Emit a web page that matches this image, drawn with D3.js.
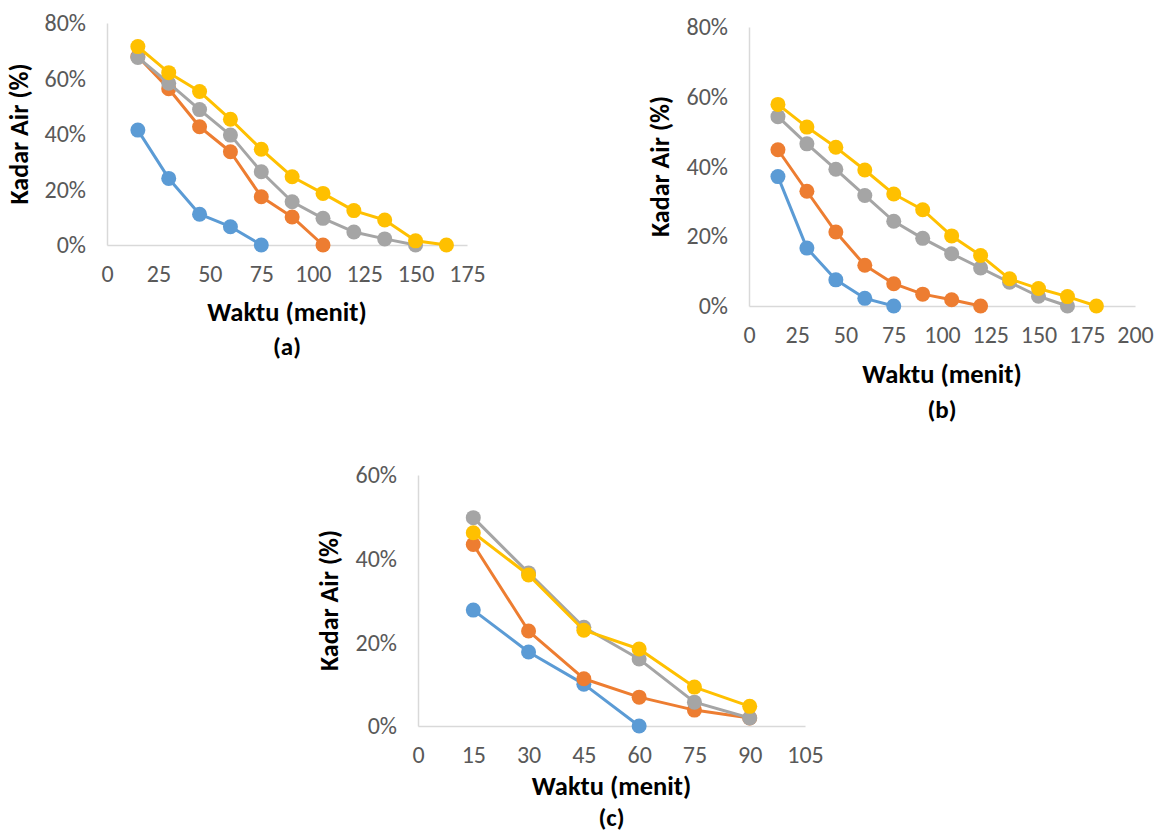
<!DOCTYPE html>
<html>
<head>
<meta charset="utf-8">
<script src="https://cdn.jsdelivr.net/npm/d3@7"></script>
<style>
  body { margin: 0; background: #fff; }
  svg { display: block; font-family: Carlito, Lato, "Liberation Sans", sans-serif; }
</style>
</head>
<body>
<svg id="chart" width="1156" height="834"></svg>
<script>
// Series colours (Excel default palette)
const seriesColors = ["#5B9BD5", "#ED7D31", "#A5A5A5", "#FFC000"];

// Panel (a)
const timeA = [15, 30, 45, 60, 75, 90, 105, 120, 135, 150, 165];
const blueA = [0.414, 0.240, 0.111, 0.066, 0];
const orangeA = [0.679, 0.563, 0.426, 0.336, 0.174, 0.101, 0];
const grayA = [0.676, 0.583, 0.488, 0.396, 0.264, 0.156, 0.096, 0.047, 0.022, 0];
const yellowA = [0.715, 0.621, 0.553, 0.453, 0.345, 0.246, 0.186, 0.124, 0.090, 0.015, 0];
const xTicksA = [0, 25, 50, 75, 100, 125, 150, 175];
const yTicksA = [0, 0.2, 0.4, 0.6, 0.8];

// Panel (b)
const timeB = [15, 30, 45, 60, 75, 90, 105, 120, 135, 150, 165, 180];
const blueB = [0.371, 0.166, 0.075, 0.022, 0];
const orangeB = [0.448, 0.329, 0.212, 0.117, 0.064, 0.034, 0.018, 0];
const grayB = [0.543, 0.465, 0.392, 0.317, 0.243, 0.194, 0.150, 0.109, 0.068, 0.028, 0];
const yellowB = [0.578, 0.513, 0.455, 0.390, 0.321, 0.276, 0.201, 0.145, 0.078, 0.050, 0.027, 0];
const xTicksB = [0, 25, 50, 75, 100, 125, 150, 175, 200];
const yTicksB = [0, 0.2, 0.4, 0.6, 0.8];

// Panel (c)
const timeC = [15, 30, 45, 60, 75, 90];
const blueC = [0.277, 0.177, 0.100, 0];
const orangeC = [0.434, 0.227, 0.113, 0.069, 0.038, 0.019];
const grayC = [0.498, 0.366, 0.236, 0.160, 0.057, 0.019];
const yellowC = [0.462, 0.361, 0.229, 0.184, 0.093, 0.047];
const xTicksC = [0, 15, 30, 45, 60, 75, 90, 105];
const yTicksC = [0, 0.2, 0.4, 0.6];

const panels = [
  { label: "(a)", time: timeA, series: [blueA, orangeA, grayA, yellowA], xTicks: xTicksA, yTicks: yTicksA,
    left: 107, right: 467, top: 23, bottom: 245, yTitleX: 22, xTitleY: 315, capY: 349 },
  { label: "(b)", time: timeB, series: [blueB, orangeB, grayB, yellowB], xTicks: xTicksB, yTicks: yTicksB,
    left: 749, right: 1135, top: 27, bottom: 306, yTitleX: 663, xTitleY: 377, capY: 412 },
  { label: "(c)", time: timeC, series: [blueC, orangeC, grayC, yellowC], xTicks: xTicksC, yTicks: yTicksC,
    left: 418, right: 805, top: 475, bottom: 726, yTitleX: 332, xTitleY: 789, capY: 820 }
];

const svg = d3.select("#chart");
const pct = d3.format(".0%");

panels.forEach(p => {
  const x = d3.scaleLinear()
    .domain(d3.extent(p.xTicks))
    .range([p.left, p.right]);
  const y = d3.scaleLinear()
    .domain(d3.extent(p.yTicks))
    .range([p.bottom, p.top]);

  const g = svg.append("g");

  // X axis
  const xAxis = g.append("g")
    .attr("transform", `translate(0,${p.bottom})`)
    .call(d3.axisBottom(x).tickValues(p.xTicks).tickSize(0).tickPadding(20))
    .attr("font-family", null)
    .attr("font-size", 24);
  xAxis.select(".domain").attr("stroke", "#d9d9d9").attr("stroke-width", 1.5);
  xAxis.selectAll("text").attr("fill", "#595959");

  // Y axis
  const yAxis = g.append("g")
    .attr("transform", `translate(${p.left},0)`)
    .call(d3.axisLeft(y).tickValues(p.yTicks).tickFormat(pct).tickSize(0).tickPadding(21))
    .attr("font-family", null)
    .attr("font-size", 24);
  yAxis.select(".domain").attr("stroke", "#d9d9d9").attr("stroke-width", 1.5);
  yAxis.selectAll("text").attr("fill", "#595959");

  // Lines and markers
  const line = d3.line()
    .x((d, i) => x(p.time[i]))
    .y(d => y(d));

  p.series.forEach((vals, si) => {
    g.append("path")
      .datum(vals)
      .attr("fill", "none")
      .attr("stroke", seriesColors[si])
      .attr("stroke-width", 3)
      .attr("stroke-linejoin", "round")
      .attr("d", line);

    g.selectAll(null)
      .data(vals)
      .join("circle")
      .attr("cx", (d, i) => x(p.time[i]))
      .attr("cy", d => y(d))
      .attr("r", 7.5)
      .attr("fill", seriesColors[si]);
  });

  // Titles
  const midX = (p.left + p.right) / 2;
  g.append("text")
    .attr("x", midX)
    .attr("y", p.xTitleY)
    .attr("text-anchor", "middle")
    .attr("dominant-baseline", "middle")
    .attr("font-size", "26.5px")
    .attr("font-weight", "bold")
    .text("Waktu (menit)");

  g.append("text")
    .attr("x", midX)
    .attr("y", p.capY)
    .attr("text-anchor", "middle")
    .attr("dominant-baseline", "middle")
    .attr("font-size", "25px")
    .attr("font-weight", "bold")
    .text(p.label);

  g.append("text")
    .attr("transform", `translate(${p.yTitleX},${(p.top + p.bottom) / 2}) rotate(-90)`)
    .attr("text-anchor", "middle")
    .attr("dominant-baseline", "middle")
    .attr("font-size", "26px")
    .attr("font-weight", "bold")
    .text("Kadar Air (%)");
});
</script>
</body>
</html>
